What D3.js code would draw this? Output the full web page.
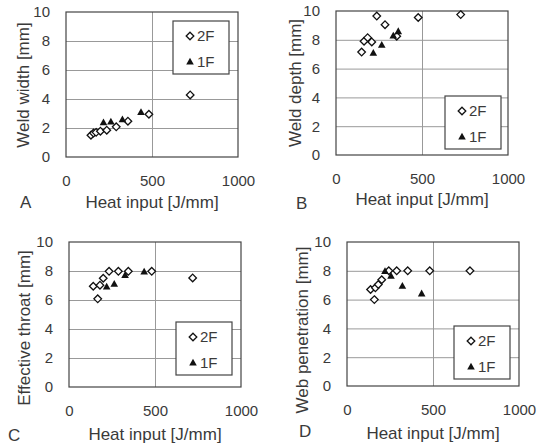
<!DOCTYPE html>
<html>
<head>
<meta charset="utf-8">
<script src="https://cdn.jsdelivr.net/npm/d3@7"></script>
<style>
  body { margin: 0; background: #fff; }
  svg { display: block; font-family: "Liberation Sans", Arial, sans-serif; }
  .tick text { fill: #3a3a3a; font-size: 15px; }
  .grid line { stroke: #999; stroke-width: 1; }
  .frame { fill: none; stroke: #444; stroke-width: 1.2; }
  .title { fill: #3a3a3a; font-size: 17px; }
  .letter { fill: #3a3a3a; font-size: 17px; }
  .legend rect { fill: #fff; stroke: #444; stroke-width: 1.2; }
  .legend text { fill: #3a3a3a; font-size: 15px; }
  .m2f { fill: #fff; stroke: #111; stroke-width: 1.3; }
  .m1f { fill: #111; stroke: none; }
</style>
</head>
<body>
<script>
  // tick values shared by all four panels
  const xTicks = [0, 500, 1000];
  const yTicks = [0, 2, 4, 6, 8, 10];
  const seriesNames = ['2F', '1F'];
  const xTitle = 'Heat input [J/mm]';

  // A - weld width
  const widthX2F = [145, 160, 175, 200, 237, 292, 360, 482, 722];
  const widthY2F = [1.5, 1.65, 1.7, 1.78, 1.85, 2.08, 2.47, 2.95, 4.28];
  const widthX1F = [218, 261, 328, 436];
  const widthY1F = [2.4, 2.45, 2.6, 3.1];

  // B - weld depth
  const depthX2F = [149, 163, 184, 208, 237, 285, 353, 478, 725];
  const depthY2F = [7.15, 7.9, 8.15, 7.85, 9.65, 9.05, 8.25, 9.55, 9.75];
  const depthX1F = [217, 266, 333, 362];
  const depthY1F = [7.1, 7.65, 8.3, 8.6];

  // C - effective throat
  const throatX2F = [141, 167, 180, 199, 233, 287, 345, 481, 719];
  const throatY2F = [6.95, 6.08, 7.02, 7.5, 7.98, 7.98, 7.98, 7.98, 7.52];
  const throatX1F = [219, 263, 326, 437];
  const throatY1F = [6.93, 7.12, 7.72, 7.97];

  // D - web penetration
  const webX2F = [137, 159, 165, 182, 202, 243, 289, 353, 481, 715];
  const webY2F = [6.7, 6.0, 6.82, 7.05, 7.38, 8.0, 8.0, 8.0, 8.0, 8.0];
  const webX1F = [221, 256, 322, 434];
  const webY1F = [7.99, 7.66, 6.96, 6.43];

  const zip = (xs, ys) => xs.map((x, i) => ({x: x, y: ys[i]}));

  const panels = [
    {letter: 'A', yTitle: 'Weld width [mm]', s2F: zip(widthX2F, widthY2F), s1F: zip(widthX1F, widthY1F),
     plot: {x: 66, y: 12, w: 172, h: 145}, legend: {x: 173, y: 21}, letterPos: {x: 20, y: 208},
     xTitleY: 208, yTitlePos: {x: 29, y: 85}},
    {letter: 'B', yTitle: 'Weld depth [mm]', s2F: zip(depthX2F, depthY2F), s1F: zip(depthX1F, depthY1F),
     plot: {x: 336, y: 11, w: 172, h: 144}, legend: {x: 445, y: 96}, letterPos: {x: 296, y: 209},
     xTitleY: 205, yTitlePos: {x: 301, y: 83}},
    {letter: 'C', yTitle: 'Effective throat [mm]', s2F: zip(throatX2F, throatY2F), s1F: zip(throatX1F, throatY1F),
     plot: {x: 69, y: 242, w: 172, h: 145}, legend: {x: 176, y: 322}, letterPos: {x: 8, y: 441},
     xTitleY: 440, yTitlePos: {x: 30, y: 328}},
    {letter: 'D', yTitle: 'Web penetration [mm]', s2F: zip(webX2F, webY2F), s1F: zip(webX1F, webY1F),
     plot: {x: 347, y: 242, w: 172, h: 144}, legend: {x: 454, y: 326}, letterPos: {x: 299, y: 437},
     xTitleY: 439, yTitlePos: {x: 308, y: 330}}
  ];

  const diamond = 'M0,-3.8L3.8,0L0,3.8L-3.8,0Z';
  const triangle = 'M0,-3.8L3.8,3L-3.8,3Z';

  const svg = d3.select('body').append('svg')
    .attr('width', 542)
    .attr('height', 446);

  panels.forEach(function(p) {
    let w = p.plot.w, h = p.plot.h;

    let x = d3.scaleLinear().domain([0, 1000]).range([0, w]);
    let y = d3.scaleLinear().domain([0, 10]).range([h, 0]);

    let g = svg.append('g')
      .attr('transform', 'translate(' + p.plot.x + ',' + p.plot.y + ')');

    // grid: horizontal at 2..8, vertical at 500
    g.append('g')
      .attr('class', 'grid')
      .call(d3.axisLeft(y).tickValues([2, 4, 6, 8]).tickSize(-w).tickFormat(''))
      .call(s => s.select('.domain').remove());

    g.append('g')
      .attr('class', 'grid')
      .attr('transform', 'translate(0,' + h + ')')
      .call(d3.axisBottom(x).tickValues([500]).tickSize(-h).tickFormat(''))
      .call(s => s.select('.domain').remove());

    g.append('rect')
      .attr('class', 'frame')
      .attr('width', w)
      .attr('height', h);

    // axes, labels only
    g.append('g')
      .call(d3.axisLeft(y).tickValues(yTicks).tickSize(0).tickPadding(16).tickFormat(d3.format('d')))
      .call(s => s.select('.domain').remove())
      .call(s => s.selectAll('text').attr('font-family', null).attr('font-size', null));

    g.append('g')
      .attr('transform', 'translate(0,' + h + ')')
      .call(d3.axisBottom(x).tickValues(xTicks).tickSize(0).tickPadding(18).tickFormat(d3.format('d')))
      .call(s => s.select('.domain').remove())
      .call(s => s.selectAll('text').attr('font-family', null).attr('font-size', null));

    // points
    g.selectAll('.m2f')
      .data(p.s2F)
      .enter()
      .append('path')
      .attr('class', 'm2f')
      .attr('d', diamond)
      .attr('transform', d => 'translate(' + x(d.x) + ',' + y(d.y) + ')');

    g.selectAll('.m1f')
      .data(p.s1F)
      .enter()
      .append('path')
      .attr('class', 'm1f')
      .attr('d', triangle)
      .attr('transform', d => 'translate(' + x(d.x) + ',' + y(d.y) + ')');

    // legend
    let lg = svg.append('g')
      .attr('class', 'legend')
      .attr('transform', 'translate(' + p.legend.x + ',' + p.legend.y + ')');

    lg.append('rect').attr('width', 56).attr('height', 53);

    seriesNames.forEach(function(name, i) {
      let row = 15 + i * 25.5;
      lg.append('path')
        .attr('class', i === 0 ? 'm2f' : 'm1f')
        .attr('d', i === 0 ? diamond : triangle)
        .attr('transform', 'translate(17,' + row + ')');
      lg.append('text')
        .attr('x', 24)
        .attr('y', row)
        .attr('dy', '0.36em')
        .text(name);
    });

    // titles
    svg.append('text')
      .attr('class', 'title')
      .attr('x', p.plot.x + w / 2)
      .attr('y', p.xTitleY)
      .attr('text-anchor', 'middle')
      .text(xTitle);

    svg.append('text')
      .attr('class', 'title')
      .attr('transform', 'translate(' + p.yTitlePos.x + ',' + p.yTitlePos.y + ') rotate(-90)')
      .attr('text-anchor', 'middle')
      .text(p.yTitle);

    svg.append('text')
      .attr('class', 'letter')
      .attr('x', p.letterPos.x)
      .attr('y', p.letterPos.y)
      .text(p.letter);
  });
</script>
</body>
</html>
